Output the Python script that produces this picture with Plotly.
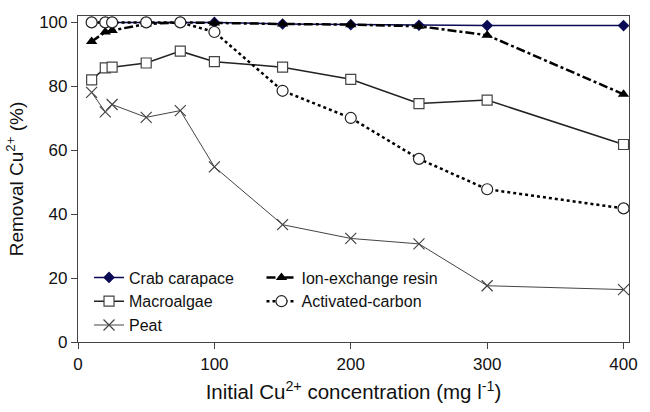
import plotly.graph_objects as go

conc = [10, 20, 25, 50, 75, 100, 150, 200, 250, 300, 400]
crab = [100, 100, 100, 100, 100, 100, 99.5, 99.3, 99.1, 99, 99]
ion = [94.0, 97.0, 97.5, 99.5, 100, 99.8, 99.5, 99.3, 98.8, 96.0, 77.5]
macro = [82.0, 85.8, 86.0, 87.3, 91.0, 87.7, 86.0, 82.2, 74.6, 75.7, 61.8]
carbon = [100, 100, 100, 100, 100, 97.0, 78.6, 70.1, 57.3, 47.8, 41.8]
peat = [78.1, 72.0, 74.3, 70.3, 72.4, 54.8, 36.7, 32.4, 30.7, 17.6, 16.4]

x_ticks = [0, 100, 200, 300, 400]
y_ticks = [0, 20, 40, 60, 80, 100]

fig = go.Figure()
fig.add_trace(go.Scatter(x=conc, y=crab, name="Crab carapace", mode="lines+markers",
                         legend="legend",
                         line=dict(color="#0b0b55", width=1.5),
                         marker=dict(symbol="diamond", size=9, color="#0b0b55")))
fig.add_trace(go.Scatter(x=conc, y=ion, name="Ion-exchange resin", mode="lines+markers",
                         legend="legend2",
                         line=dict(color="black", width=2.5, dash="dashdot"),
                         marker=dict(symbol="triangle-up", size=10, color="black")))
fig.add_trace(go.Scatter(x=conc, y=macro, name="Macroalgae", mode="lines+markers",
                         legend="legend",
                         line=dict(color="#222222", width=1.5),
                         marker=dict(symbol="square", size=10, color="white",
                                     line=dict(color="#444444", width=1.2))))
fig.add_trace(go.Scatter(x=conc, y=carbon, name="Activated-carbon", mode="lines+markers",
                         legend="legend2",
                         line=dict(color="black", width=2.5, dash="dot"),
                         marker=dict(symbol="circle", size=11, color="white",
                                     line=dict(color="#222222", width=1.2))))
fig.add_trace(go.Scatter(x=conc, y=peat, name="Peat", mode="lines+markers",
                         legend="legend",
                         line=dict(color="#444444", width=1),
                         marker=dict(symbol="x-thin-open", size=11,
                                     line=dict(color="#333333", width=1.2))))

font = "Liberation Sans, Arial, sans-serif"
leg_common = dict(xanchor="left", yanchor="top", bgcolor="rgba(0,0,0,0)",
                  font=dict(size=16, family=font), itemwidth=30,
                  traceorder="normal", orientation="v")
fig.update_layout(
    width=650, height=412,
    margin=dict(l=78, r=12, t=16, b=68),
    paper_bgcolor="white", plot_bgcolor="white",
    font=dict(family=font, color="#111111"),
    showlegend=True,
    legend=dict(x=0.02, y=0.25, **leg_common),
    legend2=dict(x=0.333, y=0.25, **leg_common),
    xaxis=dict(range=[0, 404], tickvals=x_ticks, ticks="outside", ticklen=6,
               showline=True, linecolor="#444444", linewidth=1.2, mirror=True,
               showgrid=False, zeroline=False, tickfont=dict(size=17),
               title=dict(text="Initial Cu<sup>2+</sup> concentration (mg l<sup>-1</sup>)",
                          font=dict(size=20.5), standoff=12)),
    yaxis=dict(range=[0, 102], tickvals=y_ticks, ticks="outside", ticklen=6,
               showline=True, linecolor="#444444", linewidth=1.2, mirror=True,
               showgrid=False, zeroline=False, tickfont=dict(size=17),
               title=dict(text="Removal Cu<sup>2+</sup> (%)", font=dict(size=19), standoff=10)),
)

fig.write_html("out.html")
